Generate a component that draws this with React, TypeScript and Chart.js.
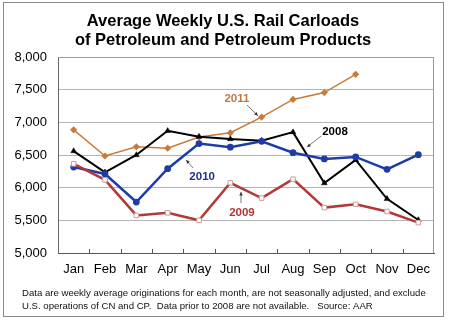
import { useEffect, useRef } from "react";
import { Chart, registerables } from "chart.js";
Chart.register(...registerables);

const months = ["Jan", "Feb", "Mar", "Apr", "May", "Jun", "Jul", "Aug", "Sep", "Oct", "Nov", "Dec"];
const y2008 = [6560, 6235, 6500, 6870, 6780, 6745, 6720, 6850, 6070, 6425, 5830, 5505];
const y2009 = [6365, 6120, 5575, 5615, 5500, 6075, 5840, 6130, 5695, 5745, 5635, 5465];
const y2010 = [6315, 6210, 5780, 6290, 6675, 6620, 6710, 6535, 6440, 6470, 6280, 6505];
const y2011 = [6885, 6485, 6625, 6605, 6775, 6840, 7080, 7350, 7455, 7735, null, null];
const yTicks = [5000, 5500, 6000, 6500, 7000, 7500, 8000];
const titleLines = ["Average Weekly U.S. Rail Carloads", "of Petroleum and Petroleum Products"];
const footerLines = [
  "Data are weekly average originations for each month, are not seasonally adjusted, and exclude",
  "U.S. operations of CN and CP.  Data prior to 2008 are not available.   Source: AAR",
];
// annotation labels: [text, color, labelIndex, labelValue, arrowFromIndex, arrowFromValue, arrowToIndex, arrowToValue]
const annotations: [string, string, number, number, number, number, number, number][] = [
  ["2011", "#c0783c", 5.21, 7357, 5.53, 7265, 5.88, 7100],
  ["2008", "#000000", 8.34, 6852, 7.9, 6791, 7.45, 6622],
  ["2010", "#1c2f96", 4.1, 6163, 3.81, 6301, 3.59, 6423],
  ["2009", "#b83232", 5.37, 5612, 5.34, 5765, 5.34, 5934],
];

const decorPlugin = {
  id: "decor",
  beforeDraw(chart: any) {
    const { ctx, width, height } = chart;
    ctx.save();
    ctx.fillStyle = "#ffffff";
    ctx.fillRect(0, 0, width, height);
    ctx.strokeStyle = "#8a8a8a";
    ctx.lineWidth = 1;
    ctx.strokeRect(3.5, 2.5, 440, 314);
    ctx.restore();
  },
  afterDraw(chart: any) {
    const { ctx, chartArea } = chart;
    const xs = chart.scales.x;
    const ys = chart.scales.y;
    ctx.save();
    // plot frame top/right
    ctx.strokeStyle = "#9a9a9a";
    ctx.lineWidth = 1;
    ctx.beginPath();
    ctx.moveTo(chartArea.left, chartArea.top + 0.5);
    ctx.lineTo(chartArea.right - 0.5, chartArea.top + 0.5);
    ctx.lineTo(chartArea.right - 0.5, chartArea.bottom);
    ctx.stroke();
    // inner tick marks on x axis at category boundaries
    ctx.strokeStyle = "#555";
    ctx.beginPath();
    for (let k = 1; k < months.length; k++) {
      const x = Math.round((xs.getPixelForValue(k - 1) + xs.getPixelForValue(k)) / 2) + 0.5;
      ctx.moveTo(x, chartArea.bottom);
      ctx.lineTo(x, chartArea.bottom - 4);
    }
    ctx.stroke();
    // title
    ctx.fillStyle = "#000";
    ctx.textAlign = "center";
    ctx.textBaseline = "middle";
    ctx.font = "bold 16.5px 'Liberation Sans', Arial, sans-serif";
    ctx.fillText(titleLines[0], 223, 21);
    ctx.fillText(titleLines[1], 223, 40);
    // footer
    ctx.textAlign = "left";
    ctx.font = "9.6px 'Liberation Sans', Arial, sans-serif";
    ctx.fillStyle = "#111";
    ctx.fillText(footerLines[0], 22, 293);
    ctx.fillText(footerLines[1], 22, 306);
    // annotations
    ctx.font = "bold 11.5px 'Liberation Sans', Arial, sans-serif";
    ctx.textAlign = "center";
    for (const a of annotations) {
      const [txt, col, li, lv, fi, fv, ti, tv] = a;
      const lx = xs.getPixelForValue(li);
      const ly = ys.getPixelForValue(lv);
      ctx.fillStyle = col;
      ctx.fillText(txt, lx, ly);
      const x1 = xs.getPixelForValue(fi), y1 = ys.getPixelForValue(fv);
      const x2 = xs.getPixelForValue(ti), y2 = ys.getPixelForValue(tv);
      ctx.strokeStyle = "#555";
      ctx.lineWidth = 0.8;
      ctx.beginPath();
      ctx.moveTo(x1, y1);
      ctx.lineTo(x2, y2);
      ctx.stroke();
      const ang = Math.atan2(y2 - y1, x2 - x1);
      ctx.fillStyle = "#333";
      ctx.beginPath();
      ctx.moveTo(x2, y2);
      ctx.lineTo(x2 - 4 * Math.cos(ang - 0.45), y2 - 4 * Math.sin(ang - 0.45));
      ctx.lineTo(x2 - 4 * Math.cos(ang + 0.45), y2 - 4 * Math.sin(ang + 0.45));
      ctx.closePath();
      ctx.fill();
    }
    ctx.restore();
  },
};

export default function App() {
  const ref = useRef<HTMLCanvasElement>(null);
  useEffect(() => {
    if (!ref.current) return;
    const chart = new Chart(ref.current, {
      type: "line",
      data: {
        labels: months,
        datasets: [
          {
            label: "2009",
            data: y2009,
            borderColor: "#b33838",
            borderWidth: 2.5,
            pointStyle: "rect",
            pointRadius: 3.2,
            pointBackgroundColor: "#ffffff",
            pointBorderColor: "#d49a9a",
            pointBorderWidth: 1,
          },
          {
            label: "2010",
            data: y2010,
            borderColor: "#1e3ca8",
            borderWidth: 2.5,
            pointStyle: "circle",
            pointRadius: 3.4,
            pointBackgroundColor: "#1e3ca8",
            pointBorderColor: "#1e3ca8",
            pointBorderWidth: 0,
          },
          {
            label: "2008",
            data: y2008,
            borderColor: "#000000",
            borderWidth: 2,
            pointStyle: "triangle",
            pointRadius: 3.3,
            pointBackgroundColor: "#000000",
            pointBorderColor: "#000000",
            pointBorderWidth: 0.5,
          },
          {
            label: "2011",
            data: y2011,
            borderColor: "#c97a3a",
            borderWidth: 1.5,
            pointStyle: "rectRot",
            pointRadius: 3.6,
            pointBackgroundColor: "#c97a3a",
            pointBorderColor: "#c97a3a",
            pointBorderWidth: 0,
          },
        ],
      },
      options: {
        responsive: false,
        animation: false,
        layout: { padding: { left: 0, top: 57, right: 16, bottom: 0 } },
        plugins: { legend: { display: false }, tooltip: { enabled: false }, title: { display: false } },
        scales: {
          x: {
            offset: true,
            grid: { display: false, drawTicks: false },
            border: { display: true, color: "#555", width: 1 },
            ticks: {
              padding: 9,
              color: "#000",
              font: { size: 13, family: "'Liberation Sans', Arial, sans-serif" },
              maxRotation: 0,
              autoSkip: false,
            },
            afterFit(scale: any) {
              scale.height = 69;
            },
          },
          y: {
            min: 5000,
            max: 8000,
            afterBuildTicks(scale: any) {
              scale.ticks = yTicks.map((v) => ({ value: v }));
            },
            grid: { color: "#b4b4b4", drawTicks: false, lineWidth: 1 },
            border: { display: true, color: "#666", width: 1 },
            ticks: {
              padding: 11,
              color: "#000",
              font: { size: 13, family: "'Liberation Sans', Arial, sans-serif" },
              callback: (v: any) => Number(v).toLocaleString("en-US"),
            },
            afterFit(scale: any) {
              scale.width = 58;
            },
          },
        },
      },
      plugins: [decorPlugin],
    });
    return () => chart.destroy();
  }, []);
  return (
    <div style={{ position: "absolute", left: 0, top: 0, width: 450, height: 322 }}>
      <canvas ref={ref} width={450} height={322} />
    </div>
  );
}
